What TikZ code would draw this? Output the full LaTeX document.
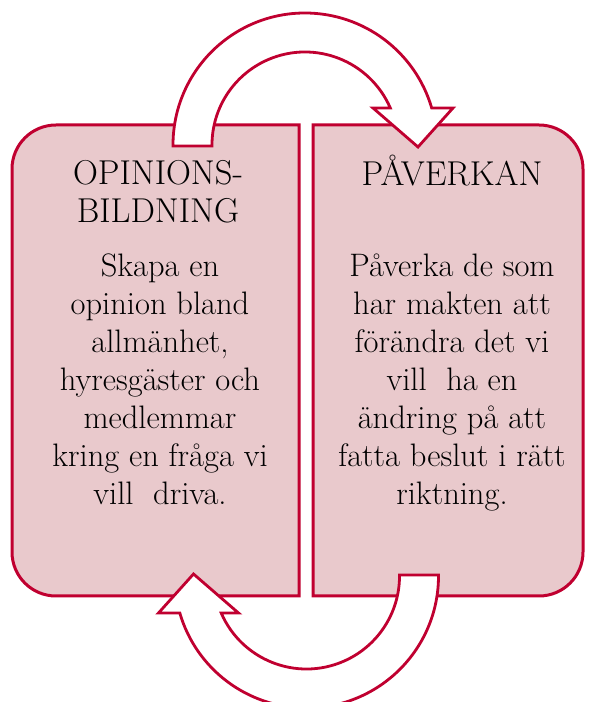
\documentclass[tikz,border=0pt]{standalone}
\usepackage{tikz}
\definecolor{framered}{RGB}{192,0,48}
\definecolor{boxpink}{RGB}{233,201,204}

\begin{document}
\begin{tikzpicture}[x=1pt,y=1pt]
 \tikzstyle{panel} = [draw=framered,line width=3pt,fill=boxpink]
 \tikzstyle{turn} = [draw=framered,line width=2.8pt,fill=white,line join=miter]
 \tikzstyle{paneltext} = [align=center,text=black,inner sep=0,anchor=base,font=\fontsize{32.5}{38}\selectfont]
 \tikzstyle{paneltitle} = [paneltext,font=\fontsize{34.5}{38}\selectfont]
 \newcommand{\rr}{44}
 \newcommand{\turnarrow}{(173,556) -- (173,557) arc[start angle=180,end angle=16.28,radius=132]
   -- (453,594) -- (418,555) -- (373,594) -- (390.3,594)
   arc[start angle=23.44,end angle=180,radius=93] -- (212,556) -- cycle}
 \useasboundingbox (0,0) rectangle (590,702);

% Boxes, rounded on the outer side only
 \draw[panel] (299,106) -- (299,577) -- (12+\rr,577) arc[start angle=90,end angle=180,radius=\rr]
   -- (12,106+\rr) arc[start angle=180,end angle=270,radius=\rr] -- cycle;
 \draw[panel] (313,106) -- (313,577) -- (583-\rr,577) arc[start angle=90,end angle=0,radius=\rr]
   -- (583,106+\rr) arc[start angle=0,end angle=-90,radius=\rr] -- cycle;

% Arrows
 \draw[turn] \turnarrow;
 \begin{scope}[rotate around={180:(305.75,341.5)}]
  \draw[turn] \turnarrow;
 \end{scope}

% Texts (base = last line)
 \node[paneltitle] (t1) at (158,479) {OPINIONS-\\BILDNING};
 \node[paneltext] (b1) at (160,197) {Skapa en\\opinion bland\\allmänhet,\\hyresgäster och\\medlemmar\\kring en fråga vi\\vill~ driva.};
 \node[paneltitle] (t2) at (452,516) {PÅVERKAN};
 \node[paneltext] (b2) at (452,197) {Påverka de som\\har makten att\\förändra det vi\\vill~ ha en\\ändring på att\\fatta beslut i rätt\\riktning.};

\end{tikzpicture}
\end{document}
